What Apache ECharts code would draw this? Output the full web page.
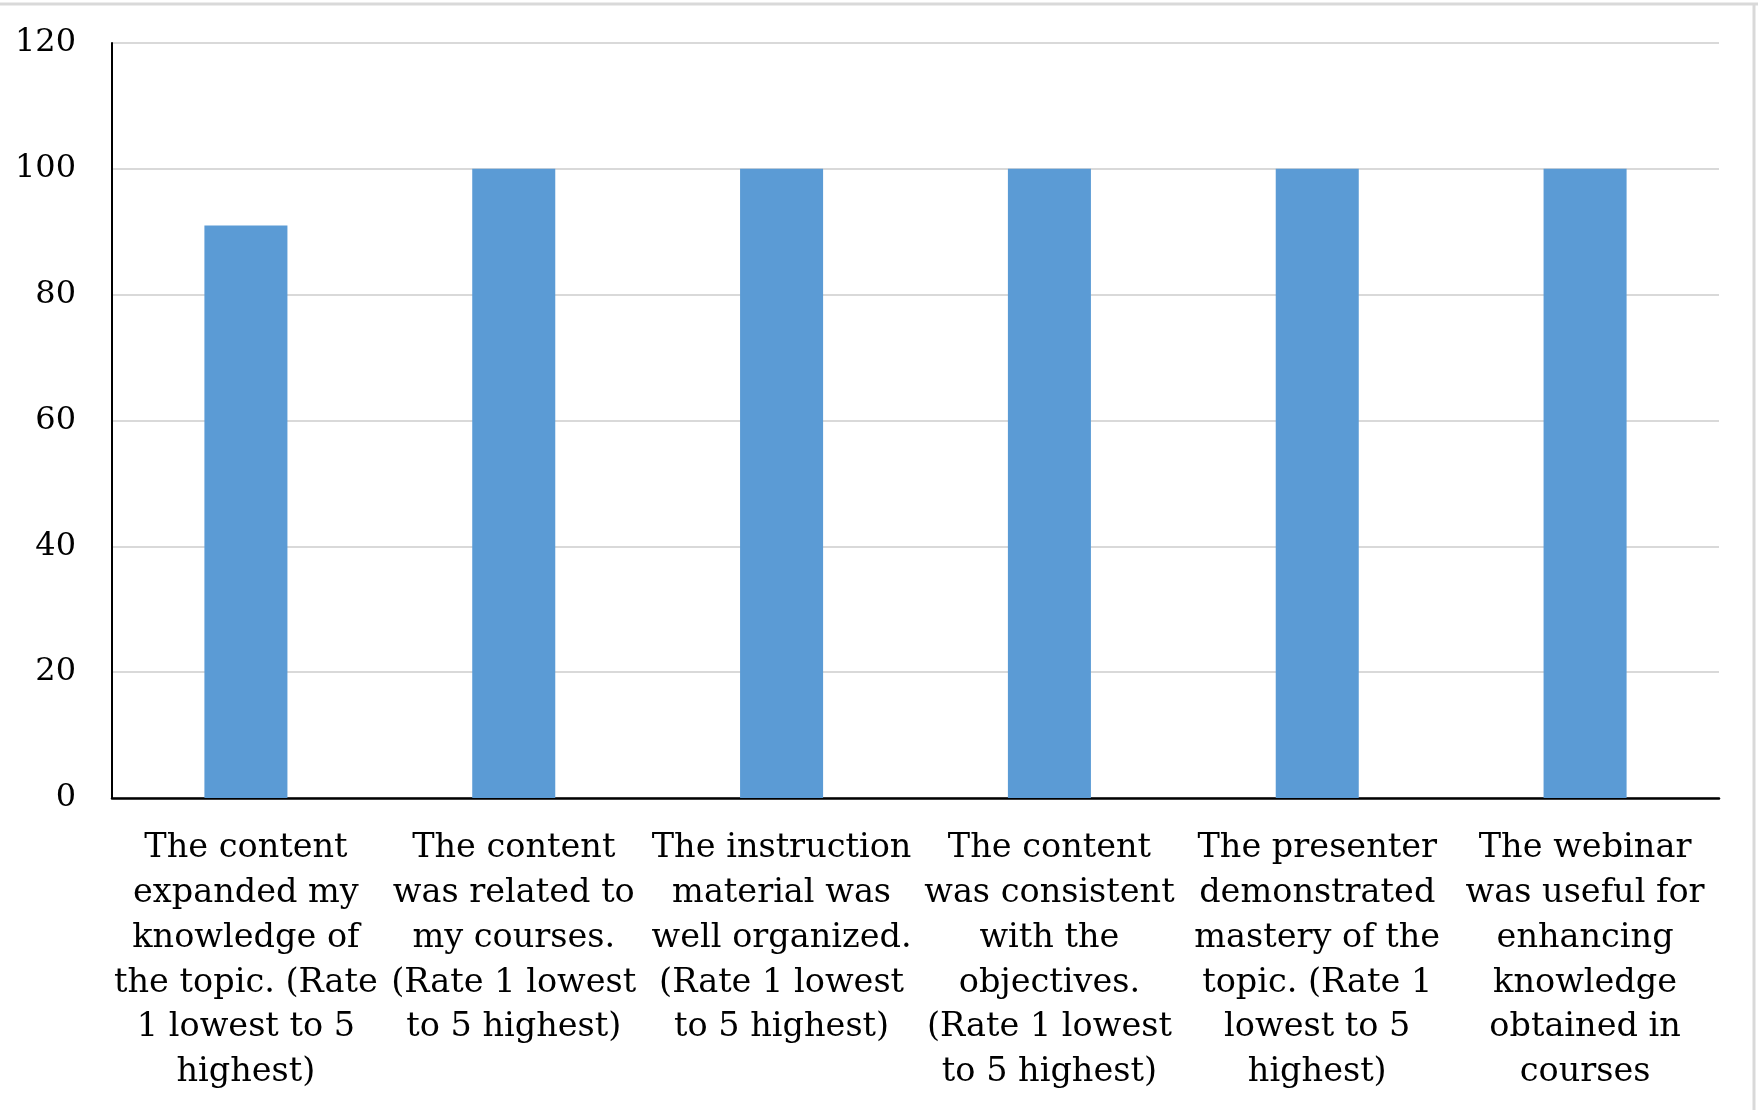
<!DOCTYPE html>
<html>
<head>
<meta charset="utf-8">
<script src="https://cdn.jsdelivr.net/npm/echarts@6/dist/echarts.min.js"></script>
<style>
html,body{margin:0;padding:0;background:#fff;}
#chart{width:1758px;height:1110px;}
</style>
</head>
<body>
<div id="chart"></div>
<script>
const categories = [
  "The content\nexpanded my\nknowledge of\nthe topic. (Rate\n1 lowest to 5\nhighest)",
  "The content\nwas related to\nmy courses.\n(Rate 1 lowest\nto 5 highest)",
  "The instruction\nmaterial was\nwell organized.\n(Rate 1 lowest\nto 5 highest)",
  "The content\nwas consistent\nwith the\nobjectives.\n(Rate 1 lowest\nto 5 highest)",
  "The presenter\ndemonstrated\nmastery of the\ntopic. (Rate 1\nlowest to 5\nhighest)",
  "The webinar\nwas useful for\nenhancing\nknowledge\nobtained in\ncourses"
];
const values = [91, 100, 100, 100, 100, 100];
const yTicks = { min: 0, max: 120, interval: 20 };

const chart = echarts.init(document.getElementById('chart'));
chart.setOption({
  animation: false,
  backgroundColor: '#ffffff',
  textStyle: { fontFamily: 'DejaVu Serif' },
  graphic: [
    { type: 'line', shape: { x1: 0, y1: 4, x2: 1758, y2: 4 }, style: { stroke: '#d9d9d9', lineWidth: 3 } },
    { type: 'line', shape: { x1: 1754, y1: 4, x2: 1754, y2: 1110 }, style: { stroke: '#d9d9d9', lineWidth: 3 } }
  ],
  grid: { left: 112, right: 39, top: 43, bottom: 312, containLabel: false },
  xAxis: {
    type: 'category',
    data: categories,
    axisLine: { show: true, lineStyle: { color: '#000', width: 2.5 } },
    axisTick: { show: false },
    axisLabel: {
      interval: 0,
      color: '#000',
      fontFamily: 'DejaVu Serif',
      fontSize: 33.5,
      lineHeight: 44.8,
      margin: 28,
      align: 'center'
    }
  },
  yAxis: {
    type: 'value',
    min: yTicks.min,
    max: yTicks.max,
    interval: yTicks.interval,
    axisLine: { show: true, lineStyle: { color: '#000', width: 2 } },
    axisTick: { show: false },
    axisLabel: { color: '#000', fontFamily: 'DejaVu Serif', fontSize: 32, margin: 36 },
    splitLine: { show: true, lineStyle: { color: '#d9d9d9', width: 2 } }
  },
  series: [{
    type: 'bar',
    data: values,
    barWidth: '31%',
    itemStyle: { color: '#5b9bd5' }
  }]
});
</script>
</body>
</html>
